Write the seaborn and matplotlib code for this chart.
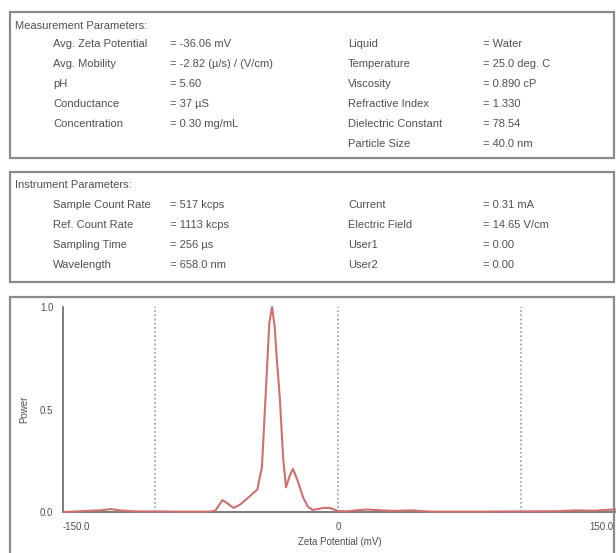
import matplotlib
matplotlib.use("Agg")
import matplotlib.pyplot as plt
import matplotlib.patches as patches
import seaborn as sns
import pandas as pd

# ---------------- data ----------------
meas_header = "Measurement Parameters:"
meas_left_labels = ["Avg. Zeta Potential", "Avg. Mobility", "pH", "Conductance", "Concentration"]
meas_left_values = ["= -36.06 mV", "= -2.82 (µ/s) / (V/cm)", "= 5.60", "= 37 µS", "= 0.30 mg/mL"]
meas_right_labels = ["Liquid", "Temperature", "Viscosity", "Refractive Index", "Dielectric Constant", "Particle Size"]
meas_right_values = ["= Water", "= 25.0 deg. C", "= 0.890 cP", "= 1.330", "= 78.54", "= 40.0 nm"]

inst_header = "Instrument Parameters:"
inst_left_labels = ["Sample Count Rate", "Ref. Count Rate", "Sampling Time", "Wavelength"]
inst_left_values = ["= 517 kcps", "= 1113 kcps", "= 256 µs", "= 658.0 nm"]
inst_right_labels = ["Current", "Electric Field", "User1", "User2"]
inst_right_values = ["= 0.31 mA", "= 14.65 V/cm", "= 0.00", "= 0.00"]

zeta_mv = [-150, -140, -130, -124, -118, -110, -100, -90, -80, -70, -67, -63, -60, -57,
           -53.6, -49, -44, -41.5, -39.3, -37.5, -36, -34.5, -33.5, -31.7, -30, -28.4,
           -26.2, -24.6, -21.9, -19, -16.4, -13.7, -8, -4.4, 0, 5, 10, 15, 20, 30, 40,
           50, 60, 80, 100, 120, 130, 140, 145, 151.6]
power = [0.0, 0.004, 0.008, 0.014, 0.007, 0.003, 0.003, 0.002, 0.002, 0.002, 0.006, 0.058,
         0.04, 0.02, 0.035, 0.07, 0.11, 0.22, 0.6, 0.92, 1.0, 0.9, 0.76, 0.55, 0.27, 0.12,
         0.18, 0.21, 0.15, 0.07, 0.025, 0.01, 0.02, 0.02, 0.005, 0.003, 0.008, 0.012, 0.01,
         0.005, 0.008, 0.002, 0.002, 0.002, 0.003, 0.004, 0.008, 0.006, 0.01, 0.012]

x_ticks = [-150, 0, 150]
x_tick_labels = ["-150.0", "0", "150.0"]
y_ticks = [0.0, 0.5, 1.0]
y_tick_labels = ["0.0", "0.5", "1.0"]
grid_positions = [-100, 0, 100]

# ---------------- style ----------------
sns.set_style("white")
plt.rcParams["font.family"] = ["Liberation Sans", "DejaVu Sans"]

W, H = 616, 553
fig = plt.figure(figsize=(W / 100, H / 100), dpi=100)

TXT = "#505050"
BOX = "#8a8a8a"
FS = 8


def fy(py):
    return 1 - py / H


def fx(px):
    return px / W


def box(x0, y0, x1, y1):
    r = patches.Rectangle((fx(x0), fy(y1)), fx(x1) - fx(x0), fy(y0) - fy(y1),
                          transform=fig.transFigure, fill=False, edgecolor=BOX, lw=1.6)
    fig.add_artist(r)


def txt(px, py, s, **kw):
    fig.text(fx(px), fy(py), s, color=TXT, fontsize=FS, va="center", ha="left", **kw)


# Box 1
box(10, 12, 614, 158)
txt(15, 26, meas_header)
for i, (l, v) in enumerate(zip(meas_left_labels, meas_left_values)):
    y = 44 + 20 * i
    txt(53, y, l)
    txt(170, y, v)
for i, (l, v) in enumerate(zip(meas_right_labels, meas_right_values)):
    y = 44 + 20 * i
    txt(348, y, l)
    txt(483, y, v)

# Box 2
box(10, 172, 614, 282)
txt(15, 185, inst_header)
for i, (l, v) in enumerate(zip(inst_left_labels, inst_left_values)):
    y = 205 + 20 * i
    txt(53, y, l)
    txt(170, y, v)
for i, (l, v) in enumerate(zip(inst_right_labels, inst_right_values)):
    y = 205 + 20 * i
    txt(348, y, l)
    txt(483, y, v)

# Box 3
box(10, 297, 614, 560)

# ---------------- chart ----------------
ax_left, ax_right, ax_top, ax_bottom = 63, 616, 307, 512
ax = fig.add_axes([fx(ax_left), fy(ax_bottom), fx(ax_right) - fx(ax_left), fy(ax_top) - fy(ax_bottom)])
ax.set_facecolor("none")

for g in grid_positions:
    ax.axvline(g, color="#9a9a9a", lw=1.2, ls=(0, (1, 1.5)), zorder=1)

df = pd.DataFrame({"Zeta Potential (mV)": zeta_mv, "Power": power})
sns.lineplot(data=df, x="Zeta Potential (mV)", y="Power", ax=ax, color="#cc7070",
             lw=1.5, zorder=3, clip_on=False)

ax.set_xlim(-150, 151.6)
ax.set_ylim(0, 1.0)
for s in ["top", "right"]:
    ax.spines[s].set_visible(False)
for s in ["left", "bottom"]:
    ax.spines[s].set_color("#666666")
    ax.spines[s].set_linewidth(1.2)

ax.set_xticks(x_ticks)
ax.set_xticklabels(x_tick_labels)
ax.set_yticks(y_ticks)
ax.set_yticklabels(y_tick_labels)
ax.tick_params(axis="both", labelsize=7, colors="#555555", length=3, width=0.8, pad=4,
               labelcolor=TXT)
xl = ax.get_xticklabels()
xl[0].set_ha("left")
xl[-1].set_ha("right")

ax.set_xlabel("Zeta Potential (mV)", fontsize=7, color=TXT, labelpad=4)
ax.set_ylabel("Power", fontsize=7, color=TXT, labelpad=8)

fig.savefig("out.png", dpi=100)
